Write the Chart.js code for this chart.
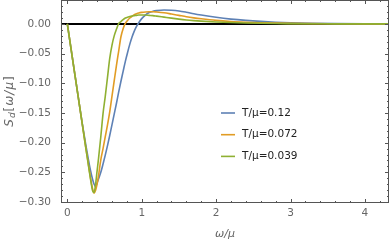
<!DOCTYPE html>
<html>
<head>
<meta charset="utf-8">
<script src="https://cdn.jsdelivr.net/npm/chart.js@4.4.1/dist/chart.umd.min.js"></script>
<style>
  html, body { margin: 0; padding: 0; background: #fff; }
</style>
</head>
<body>
<canvas id="sdChart" width="392" height="245"></canvas>
<script>
// omega/mu grid shared by the three curves
const omega = [0, 0.05, 0.1, 0.15, 0.2, 0.25, 0.28, 0.31, 0.34, 0.36, 0.38, 0.40, 0.42, 0.45, 0.48, 0.51, 0.54, 0.57, 0.60, 0.63, 0.66, 0.69, 0.72, 0.75, 0.78, 0.81, 0.84, 0.87, 0.90, 0.93, 0.96, 1.0, 1.05, 1.1, 1.15, 1.2, 1.3, 1.4, 1.5, 1.6, 1.7, 1.8, 2.0, 2.2, 2.4, 2.6, 2.8, 3.0, 3.3, 3.6, 4.0, 4.33];

const sdT012 = [0, -0.042, -0.084, -0.126, -0.167, -0.205, -0.226, -0.246, -0.262, -0.27, -0.274, -0.268, -0.261, -0.25, -0.236, -0.221, -0.205, -0.188, -0.17, -0.152, -0.134, -0.115, -0.097, -0.08, -0.063, -0.048, -0.034, -0.022, -0.012, -0.004, 0.002, 0.009, 0.015, 0.0192, 0.0213, 0.0225, 0.0236, 0.0232, 0.022, 0.0198, 0.0172, 0.015, 0.0112, 0.0082, 0.006, 0.0043, 0.003, 0.0021, 0.0012, 0.0007, 0.0003, 0.0002];

const sdT0072 = [0, -0.042, -0.084, -0.126, -0.168, -0.21, -0.234, -0.258, -0.278, -0.285, -0.28, -0.27, -0.255, -0.229, -0.21, -0.19, -0.17, -0.148, -0.122, -0.096, -0.07, -0.046, -0.022, -0.008, 0.001, 0.006, 0.01, 0.013, 0.0155, 0.0172, 0.0185, 0.0195, 0.0203, 0.0207, 0.0207, 0.0203, 0.019, 0.0168, 0.0145, 0.0122, 0.0103, 0.0087, 0.006, 0.0042, 0.003, 0.0021, 0.0015, 0.001, 0.0006, 0.0004, 0.0002, 0.0001];

const sdT0039 = [0, -0.042, -0.084, -0.126, -0.168, -0.21, -0.235, -0.26, -0.281, -0.284, -0.27, -0.248, -0.226, -0.19, -0.151, -0.122, -0.09, -0.058, -0.036, -0.02, -0.009, 0.0005, 0.004, 0.0075, 0.01, 0.0115, 0.0125, 0.0135, 0.014, 0.0145, 0.015, 0.0152, 0.015, 0.0145, 0.014, 0.0132, 0.0115, 0.0098, 0.0082, 0.0068, 0.0057, 0.0048, 0.0034, 0.0024, 0.0017, 0.0012, 0.0008, 0.0006, 0.0004, 0.0002, 0.0001, 0.0001];

const seriesLabels = ['T/\u03bc=0.12', 'T/\u03bc=0.072', 'T/\u03bc=0.039'];
const seriesColors = ['#5e81b5', '#e19c24', '#8fb032'];
const xTicks = [0, 1, 2, 3, 4];
const yTicks = [0, -0.05, -0.1, -0.15, -0.2, -0.25, -0.3];

const FONT = 'DejaVu Sans';
const GRAY = '#666';

function toPoints(ys) {
    return omega.map((w, i) => ({ x: w, y: ys[i] }));
}

// frame with inward ticks, zero line, legend and y title
const framePlugin = {
    id: 'frame',
    beforeDatasetsDraw(chart) {
        const { ctx, chartArea: a, scales: { y } } = chart;
        const y0 = Math.round(y.getPixelForValue(0));
        ctx.save();
        ctx.strokeStyle = '#000';
        ctx.lineWidth = 2;
        ctx.beginPath();
        ctx.moveTo(a.left, y0);
        ctx.lineTo(a.right, y0);
        ctx.stroke();
        ctx.restore();
    },
    afterDatasetsDraw(chart) {
        const { ctx, chartArea: a, scales: { x, y } } = chart;
        ctx.save();
        ctx.strokeStyle = '#555';
        ctx.lineWidth = 1;
        ctx.strokeRect(a.left + 0.5, a.top + 0.5, a.right - a.left - 1, a.bottom - a.top - 1);

        ctx.beginPath();
        for (let i = -1; i <= 25; i++) {
            const v = i * 0.2;
            if (v < x.min || v > x.max) continue;
            const len = i % 5 === 0 ? 4 : 2;
            const px = Math.round(x.getPixelForValue(v)) + 0.5;
            ctx.moveTo(px, a.bottom);
            ctx.lineTo(px, a.bottom - len);
            ctx.moveTo(px, a.top);
            ctx.lineTo(px, a.top + len);
        }
        for (let i = -31; i <= 5; i++) {
            const v = i * 0.01;
            if (v < y.min || v > y.max) continue;
            const len = i % 5 === 0 ? 4 : 2;
            const py = Math.round(y.getPixelForValue(v)) + 0.5;
            ctx.moveTo(a.left, py);
            ctx.lineTo(a.left + len, py);
            ctx.moveTo(a.right, py);
            ctx.lineTo(a.right - len, py);
        }
        ctx.stroke();

        // legend, in the order of seriesLabels
        ctx.font = '10.5px "' + FONT + '"';
        ctx.textBaseline = 'middle';
        seriesLabels.forEach((label, i) => {
            const ly = 113 + i * 21.7;
            ctx.strokeStyle = seriesColors[i];
            ctx.lineWidth = 1.6;
            ctx.beginPath();
            ctx.moveTo(221, ly);
            ctx.lineTo(235, ly);
            ctx.stroke();
            ctx.fillStyle = '#222';
            ctx.fillText(label, 242, ly);
        });

        // y title S_d[omega/mu]
        const cy = (a.top + a.bottom) / 2;
        ctx.translate(10, cy);
        ctx.rotate(-Math.PI / 2);
        ctx.fillStyle = GRAY;
        ctx.textBaseline = 'middle';
        const big = 'italic 12px "' + FONT + '"';
        const small = 'italic 9px "' + FONT + '"';
        const up = '12px "' + FONT + '"';
        const gap = 1;
        const parts = [
            { t: 'S', f: big, dy: 0 },
            { t: 'd', f: small, dy: 3 },
            { t: '[', f: up, dy: 0 },
            { t: '\u03c9', f: big, dy: 0 },
            { t: '/', f: big, dy: 0 },
            { t: '\u03bc', f: big, dy: 0 },
            { t: ']', f: up, dy: 0 }
        ];
        let total = 0;
        parts.forEach(p => { ctx.font = p.f; p.w = ctx.measureText(p.t).width; total += p.w + gap; });
        total -= gap;
        let tx = -total / 2;
        parts.forEach(p => {
            ctx.font = p.f;
            ctx.fillText(p.t, tx, p.dy);
            tx += p.w + gap;
        });
        ctx.restore();
    }
};

const ctx = document.getElementById('sdChart').getContext('2d');
// green listed first so it is drawn on top, as in the reference
const sdChart = new Chart(ctx, {
    type: 'line',
    data: {
        datasets: [sdT012, sdT0072, sdT0039].map((ys, i) => ({
            label: seriesLabels[i],
            data: toPoints(ys),
            borderColor: seriesColors[i],
            borderWidth: 1.6,
            pointRadius: 0,
            fill: false,
            cubicInterpolationMode: 'monotone'
        })).reverse()
    },
    options: {
        responsive: false,
        animation: false,
        layout: { padding: { left: 0, right: 3, top: 0, bottom: 0 } },
        plugins: { legend: { display: false }, tooltip: { enabled: false } },
        scales: {
            x: {
                type: 'linear',
                min: -0.085,
                max: 4.324,
                grid: { display: false, drawTicks: false },
                border: { display: false },
                afterBuildTicks(scale) { scale.ticks = xTicks.map(v => ({ value: v })); },
                afterFit(scale) { scale.height = 42; scale.paddingLeft = 0; scale.paddingRight = 0; },
                ticks: {
                    padding: 4,
                    color: GRAY,
                    font: { family: FONT, size: 10.5 },
                    callback: v => String(v)
                },
                title: {
                    display: true,
                    text: '\u03c9/\u03bc',
                    color: GRAY,
                    font: { family: FONT, size: 11, style: 'italic' },
                    padding: { top: 0, bottom: 4 }
                }
            },
            y: {
                type: 'linear',
                min: -0.3017,
                max: 0.0404,
                grid: { display: false, drawTicks: false },
                border: { display: false },
                afterBuildTicks(scale) { scale.ticks = yTicks.map(v => ({ value: v })); },
                afterFit(scale) { scale.width = 61; scale.paddingTop = 0; scale.paddingBottom = 0; },
                ticks: {
                    padding: 10,
                    color: GRAY,
                    font: { family: FONT, size: 10.5 },
                    callback: v => v.toFixed(2).replace('-', '\u2212')
                }
            }
        }
    },
    plugins: [framePlugin]
});
</script>
</body>
</html>
